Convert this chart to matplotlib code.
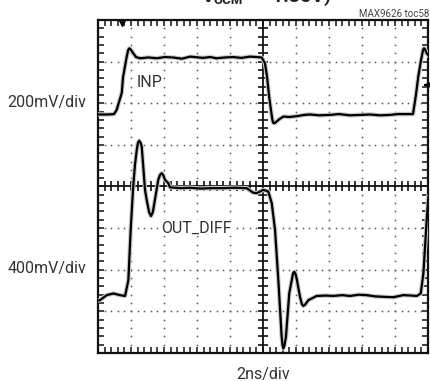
import numpy as np
import matplotlib
matplotlib.use("Agg")
import matplotlib.pyplot as plt
from matplotlib.ticker import MultipleLocator

plt.rcParams['font.family'] = ['Roboto', 'Liberation Sans', 'DejaVu Sans']

# ---- data: time in ns (2 ns/div), amplitude in screen divisions ----
inp_t = [0.00, 0.61, 0.97, 1.13, 1.44, 1.52, 1.74, 1.83, 1.90, 1.98, 2.12, 2.30, 2.55,
         3.06, 3.56, 4.05, 4.55, 5.08, 5.58, 6.36, 6.80, 7.19, 7.70, 8.18, 8.70, 9.21,
         9.60, 9.92, 10.12, 10.25, 10.36, 10.48, 10.57, 10.62, 10.70, 10.79, 11.00,
         11.23, 11.60, 12.06, 12.50, 12.85, 13.40, 14.06, 14.60, 15.27, 15.90, 16.48,
         17.10, 17.70, 18.20, 18.61, 19.09, 19.27, 19.41, 19.58, 19.70, 19.76, 19.83,
         19.92, 20.00]
inp_v = [1.73, 1.73, 1.74, 1.84, 2.25, 2.63, 3.12, 3.28, 3.32, 3.29, 3.21, 3.11, 3.08,
         3.10, 3.08, 3.11, 3.10, 3.07, 3.12, 3.09, 3.11, 3.08, 3.10, 3.11, 3.09, 3.12,
         3.11, 3.10, 2.96, 2.62, 2.20, 1.84, 1.60, 1.53, 1.52, 1.55, 1.62, 1.68, 1.67,
         1.69, 1.72, 1.73, 1.71, 1.72, 1.74, 1.71, 1.72, 1.73, 1.71, 1.72, 1.74, 1.74,
         1.74, 2.20, 2.64, 3.04, 3.28, 3.32, 3.29, 3.20, 3.16]

out_t = [0.00, 0.12, 0.53, 0.93, 1.33, 1.64, 1.84, 1.98, 2.12, 2.24, 2.35, 2.42, 2.50,
         2.58, 2.65, 2.85, 2.95, 3.10, 3.21, 3.32, 3.45, 3.65, 3.76, 3.86, 3.96, 4.06,
         4.26, 4.36, 5.00, 5.58, 6.20, 6.79, 7.59, 8.30, 9.01, 9.41, 9.62, 9.82, 10.02,
         10.32, 10.53, 10.73, 10.93, 11.13, 11.18, 11.23, 11.30, 11.39, 11.59, 11.80,
         11.84, 11.90, 11.97, 12.04, 12.24, 12.36, 12.44, 12.55, 12.75, 13.25, 13.80,
         14.26, 14.80, 15.27, 15.80, 16.28, 16.80, 17.29, 17.90, 18.50, 19.00, 19.32,
         19.56, 19.72, 19.82, 19.92, 20.02]
out_v = [-2.74, -2.73, -2.61, -2.57, -2.61, -2.63, -2.25, -1.05, -0.08, 0.52, 0.88,
         1.05, 1.10, 1.05, 0.96, -0.08, -0.32, -0.62, -0.71, -0.62, -0.32, 0.16, 0.28,
         0.32, 0.27, 0.16, 0.08, -0.02, -0.04, -0.03, -0.05, -0.04, -0.04, -0.03, -0.04,
         -0.15, -0.16, -0.12, -0.08, -0.12, -0.40, -1.05, -2.25, -3.61, -3.80, -3.89,
         -3.82, -3.61, -2.57, -2.13, -2.07, -2.05, -2.10, -2.21, -2.65, -2.83, -2.87,
         -2.84, -2.73, -2.63, -2.62, -2.63, -2.61, -2.63, -2.60, -2.61, -2.64, -2.65,
         -2.66, -2.61, -2.62, -2.63, -2.57, -2.09, -1.45, -0.81, -0.25]

trace_labels = ["INP", "OUT_DIFF"]
scale_labels = ["200mV/div", "400mV/div"]
x_label = "2ns/div"
note = "MAX9626 toc58"

W, H = 430, 381
fig = plt.figure(figsize=(W / 100, H / 100), dpi=100)
ax = fig.add_axes([98 / W, 1 - 353 / H, 330 / W, 333 / H])
ax.set_xlim(0, 20)
ax.set_ylim(-4, 4)

# dotted graticule
xs_minor = np.arange(0, 20.001, 0.4)
ys_minor = np.arange(-4, 4.001, 0.2)
for gy in [-3, -2, -1, 1, 2, 3]:
    ax.plot(xs_minor, np.full_like(xs_minor, gy), ls='none', marker='s', ms=1.1,
            mfc='#555555', mec='none', zorder=1)
for gx in [2, 4, 6, 8, 12, 14, 16, 18]:
    ax.plot(np.full_like(ys_minor, gx), ys_minor, ls='none', marker='s', ms=1.1,
            mfc='#555555', mec='none', zorder=1)

# center cross with ticks
ax.axhline(0, color='#111111', lw=1.3, zorder=2)
ax.axvline(10, color='#111111', lw=1.3, zorder=2)
ax.plot(xs_minor, np.zeros_like(xs_minor), ls='none', marker='|', ms=7, mew=1.2,
        color='#111111', zorder=2)
ax.plot(np.full_like(ys_minor, 10), ys_minor, ls='none', marker='_', ms=7, mew=1.2,
        color='#111111', zorder=2)

# border ticks
ax.xaxis.set_major_locator(MultipleLocator(0.4))
ax.yaxis.set_major_locator(MultipleLocator(0.2))
ax.tick_params(which='both', direction='in', length=4, width=1.1, color='#111111',
               top=True, right=True, labelbottom=False, labelleft=False)
for s in ax.spines.values():
    s.set_linewidth(1.6)
    s.set_color('#111111')

# traces
for t, v in [(inp_t, inp_v), (out_t, out_v)]:
    ax.plot(t, v, color='#c8c8c8', lw=3.2, zorder=3, solid_joinstyle='round')
    ax.plot(t, v, color='black', lw=1.6, zorder=4, solid_joinstyle='round')

# markers
ax.plot([1.45], [3.93], marker='v', ms=4, color='#111111', clip_on=False, zorder=5)
ax.annotate('', xy=(19.55, 2.44), xytext=(20.0, 2.44),
            arrowprops=dict(arrowstyle='-|>', color='black', lw=1.2, mutation_scale=7),
            zorder=5)

# trace labels
ax.text(2.36, 2.51, trace_labels[0], fontsize=11.5, color='#333333', va='center',
        ha='left', zorder=6)
ax.text(3.85, -1.0, trace_labels[1], fontsize=11.5, color='#333333', va='center',
        ha='left', zorder=6,
        bbox=dict(facecolor='white', edgecolor='none', pad=0.5))

# outer texts
fig.text(47 / W, 1 - 103 / H, scale_labels[0], fontsize=11.5, color='#333333',
         ha='center', va='center')
fig.text(47 / W, 1 - 269 / H, scale_labels[1], fontsize=11.5, color='#333333',
         ha='center', va='center')
fig.text(263 / W, 1 - 374 / H, x_label, fontsize=11.5, color='#333333',
         ha='center', va='center')
fig.text(429 / W, 1 - 17 / H, note, fontsize=7, color='#444444',
         ha='right', va='baseline')

# clipped title (only bottom part visible)
fig.text(202 / W, 1 - 2.0 / H, "V", fontsize=14, fontweight='bold', color='#222222',
         ha='left', va='baseline')
fig.text(214 / W, 1 - 4.0 / H, "OCM", fontsize=9.5, fontweight='bold', color='#222222',
         ha='left', va='baseline')
fig.text(256 / W, 1 - 2.0 / H, "= 1.35V)", fontsize=14, fontweight='bold',
         color='#222222', ha='left', va='baseline')

fig.savefig("out.png", dpi=100)
